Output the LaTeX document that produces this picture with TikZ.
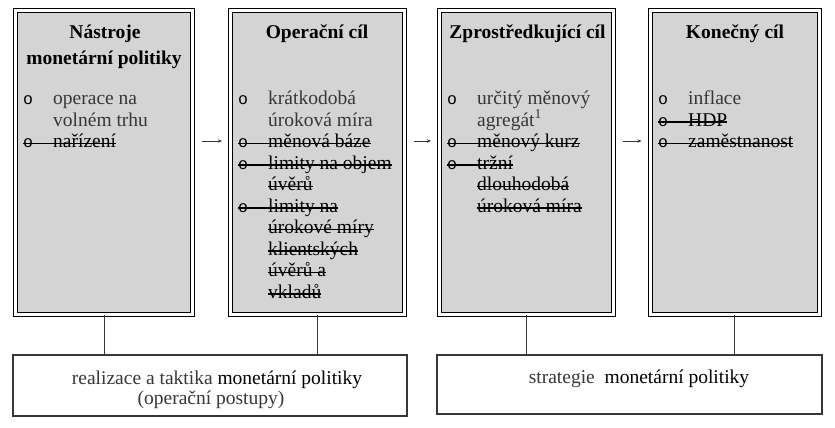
\documentclass[tikz,border=0pt]{standalone}
\usepackage{fontspec}
\setmainfont{Liberation Serif}
\newfontfamily\bulletfont{Liberation Mono}
\usetikzlibrary{arrows.meta}
\definecolor{boxgray}{RGB}{212,212,212}
\definecolor{inkgray}{RGB}{55,55,55}
\newsavebox\strkbox
\newcommand\itm[1]{\makebox[30pt][l]{{\color{black}\bulletfont\fontsize{16.5}{16}\selectfont o}}#1}
\newcommand\cont[1]{\hspace*{30pt}#1}
\newcommand\strk[1]{\sbox\strkbox{\color{black}#1}\rlap{\usebox\strkbox}{\color{black}\rule[3.5pt]{\wd\strkbox}{1.4pt}}}
\begin{document}
\begin{tikzpicture}[x=1pt,y=-1pt,
  goalbox/.style={draw=black,fill=boxgray,double=white,double distance=3pt,line width=1pt,minimum height=304pt,inner sep=0pt},
  footbox/.style={draw=inkgray,line width=1.1pt,fill=white,inner sep=0pt},
  headtext/.style={font=\fontsize{19.5}{22}\selectfont\bfseries,anchor=base,inner sep=0pt},
  itemtext/.style={font=\fontsize{19.5}{22}\selectfont,text=inkgray,anchor=base west,inner sep=0pt},
  foottext/.style={font=\fontsize{19.5}{22}\selectfont,text=inkgray,anchor=base,inner sep=0pt},
  flow/.style={draw=inkgray,line width=0.9pt,-{Stealth[length=4pt,width=3.5pt]},shorten <=9pt,shorten >=8pt},
  link/.style={draw=inkgray,line width=1pt}]
\useasboundingbox (0,0) rectangle (835,428);

% the four goal boxes
\node[goalbox,minimum width=177pt] (tools) at (104,162.5) {};
\node[goalbox,minimum width=174pt] (opgoal) at (317.5,162.5) {};
\node[goalbox,minimum width=174pt] (midgoal) at (526.5,162.5) {};
\node[goalbox,minimum width=169.5pt] (finalgoal) at (734.75,162.5) {};

\node[headtext] (tools-head) at (105,39) {Nástroje};
\node[headtext] (tools-head2) at (104,65) {monetární politiky};
\node[headtext] (opgoal-head) at (317,39) {Operační cíl};
\node[headtext] (midgoal-head) at (527.5,39) {Zprostředkující cíl};
\node[headtext] (finalgoal-head) at (735,39) {Konečný cíl};

\foreach \entry [count=\n from 0] in {{\itm{operace na}},{\cont{volném\ trhu}},{\strk{\itm{nařízení}}}}
  \node[itemtext] (tools-\n) at (23,{104.5+21.5*\n}) {\entry};
\foreach \entry [count=\n from 0] in {{\itm{krátkodobá}},{\cont{úroková míra}},{\strk{\itm{měnová báze}}},
    {\strk{\itm{limity na objem}}},{\cont{\strk{úvěrů}}},{\strk{\itm{limity na}}},{\cont{\strk{úrokové míry}}},
    {\cont{\strk{klientských}}},{\cont{\strk{úvěrů a}}},{\cont{\strk{vkladů}}}}
  \node[itemtext] (opgoal-\n) at (238,{104.5+21.5*\n}) {\entry};
\foreach \entry [count=\n from 0] in {{\itm{určitý měnový}},{\cont{agregát\textsuperscript{1}}},{\strk{\itm{měnový kurz}}},
    {\strk{\itm{tržní}}},{\cont{\strk{dlouhodobá}}},{\cont{\strk{úroková míra}}}}
  \node[itemtext] (midgoal-\n) at (447,{104.5+21.5*\n}) {\entry};
\foreach \entry [count=\n from 0] in {{\itm{inflace}},{\strk{\itm{HDP}}},{\strk{\itm{zaměstnanost}}}}
  \node[itemtext] (finalgoal-\n) at (658,{104.5+21.5*\n}) {\entry};

\coordinate (lvl) at (0,141);
\draw[flow] (tools.east |- lvl) -- (opgoal.west |- lvl);
\draw[flow] (opgoal.east |- lvl) -- (midgoal.west |- lvl);
\draw[flow] (midgoal.east |- lvl) -- (finalgoal.west |- lvl);

% tactics and strategy
\node[footbox,minimum width=394pt,minimum height=61pt] (tactic) at (210,385.5) {};
\node[footbox,minimum width=385pt,minimum height=59pt] (strategy) at (629.5,384.5) {};
\node[foottext] (tactic-text) at (217,384) {realizace a taktika {\color{black}monetární politiky}};
\node[foottext] (tactic-sub) at (211,404) {(operační postupy)};
\node[foottext] (strategy-text) at (639,383) {strategie\ \ {\color{black}monetární politiky}};

\draw[link] (tools.south) -- (tools.south |- tactic.north);
\draw[link] (opgoal.south) -- (opgoal.south |- tactic.north);
\draw[link] (midgoal.south) -- (midgoal.south |- strategy.north);
\draw[link] (finalgoal.south) -- (finalgoal.south |- strategy.north);

\end{tikzpicture}
\end{document}
